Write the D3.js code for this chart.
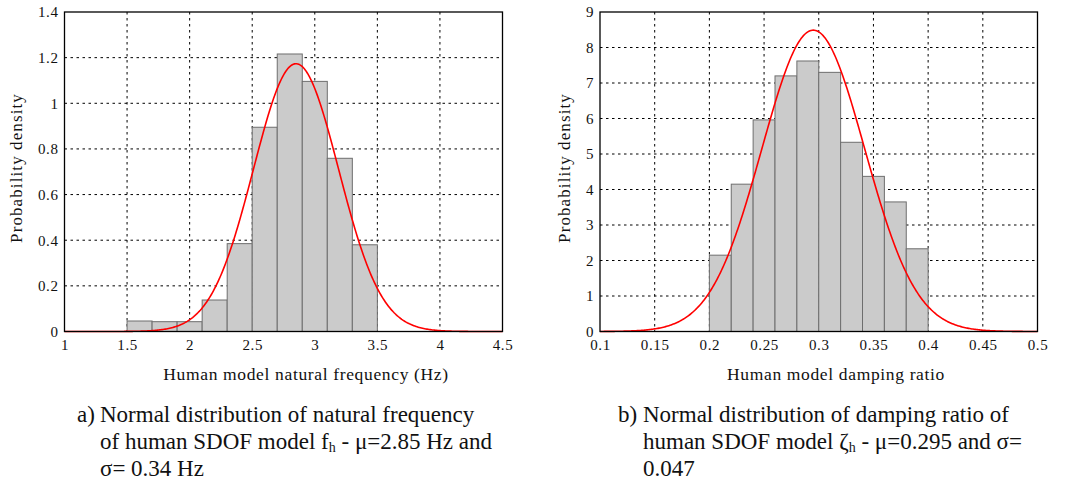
<!DOCTYPE html>
<html>
<head>
<meta charset="utf-8">
<script src="https://cdn.jsdelivr.net/npm/d3@7"></script>
<style>
  html, body { margin: 0; padding: 0; background: #fff; }
  svg { display: block; font-family: "Liberation Serif", "Times New Roman", serif; }
</style>
</head>
<body>
<svg id="chart" width="1071" height="482"></svg>
<script>
// ---------- Data ----------
// Left panel: natural frequency (Hz)
const freqBinEdges = [1.5, 1.7, 1.9, 2.1, 2.3, 2.5, 2.7, 2.9, 3.1, 3.3, 3.5];
const freqDensity  = [0.046, 0.043, 0.043, 0.138, 0.385, 0.895, 1.216, 1.096, 0.759, 0.380];
const freqMu = 2.85, freqSigma = 0.34;
const freqXTicks = [1, 1.5, 2, 2.5, 3, 3.5, 4, 4.5];
const freqYTicks = [0, 0.2, 0.4, 0.6, 0.8, 1, 1.2, 1.4];

// Right panel: damping ratio
const dampBinEdges = [0.20, 0.22, 0.24, 0.26, 0.28, 0.30, 0.32, 0.34, 0.36, 0.38, 0.40];
const dampDensity  = [2.15, 4.15, 5.96, 7.20, 7.62, 7.30, 5.33, 4.37, 3.65, 2.33];
const dampMu = 0.295, dampSigma = 0.047;
const dampXTicks = [0.1, 0.15, 0.2, 0.25, 0.3, 0.35, 0.4, 0.45, 0.5];
const dampYTicks = [0, 1, 2, 3, 4, 5, 6, 7, 8, 9];

// ---------- Drawing ----------
const svg = d3.select("#chart");
const FONT = "'Liberation Serif', 'Times New Roman', serif";

function normalPdf(x, mu, s) {
  return Math.exp(-0.5 * ((x - mu) / s) ** 2) / (s * Math.sqrt(2 * Math.PI));
}

function panel(cfg) {
  const g = svg.append("g");
  const x = d3.scaleLinear().domain(cfg.xDomain).range([cfg.left, cfg.right]);
  const y = d3.scaleLinear().domain(cfg.yDomain).range([cfg.bottom, cfg.top]);

  // grid
  g.append("g").selectAll("line").data(cfg.xTicks.slice(1, -1)).join("line")
    .attr("x1", d => x(d)).attr("x2", d => x(d))
    .attr("y1", cfg.top).attr("y2", cfg.bottom)
    .attr("stroke", "#000").attr("stroke-width", 1).attr("stroke-dasharray", "2.5,3.5");
  g.append("g").selectAll("line").data(cfg.yTicks.slice(1, -1)).join("line")
    .attr("x1", cfg.left).attr("x2", cfg.right)
    .attr("y1", d => y(d)).attr("y2", d => y(d))
    .attr("stroke", "#000").attr("stroke-width", 1).attr("stroke-dasharray", "2.5,3.5");

  // bars
  const bins = cfg.density.map((v, i) => ({ x0: cfg.edges[i], x1: cfg.edges[i + 1], v }));
  g.append("g").selectAll("rect").data(bins).join("rect")
    .attr("x", d => x(d.x0)).attr("width", d => x(d.x1) - x(d.x0))
    .attr("y", d => y(d.v)).attr("height", d => y(0) - y(d.v))
    .attr("fill", "#cbcbcb").attr("stroke", "#6e6e6e").attr("stroke-width", 1);

  // fitted normal curve (from the stated mean and standard deviation)
  const n = 400;
  const pts = d3.range(n + 1).map(i => {
    const xv = cfg.xDomain[0] + (cfg.xDomain[1] - cfg.xDomain[0]) * i / n;
    return [xv, normalPdf(xv, cfg.mu, cfg.sigma)];
  });
  g.append("path").datum(pts)
    .attr("d", d3.line().x(d => x(d[0])).y(d => y(d[1])))
    .attr("fill", "none").attr("stroke", "#ff0000").attr("stroke-width", 1.6);

  // frame
  g.append("rect").attr("x", cfg.left).attr("y", cfg.top)
    .attr("width", cfg.right - cfg.left).attr("height", cfg.bottom - cfg.top)
    .attr("fill", "none").attr("stroke", "#000").attr("stroke-width", 1.3);

  // axes (tick labels)
  const xAxis = d3.axisBottom(x).tickValues(cfg.xTicks).tickSize(0).tickPadding(8)
    .tickFormat(d => String(+d.toFixed(3)));
  const xa = g.append("g").attr("transform", `translate(0,${cfg.bottom})`).call(xAxis)
    .attr("font-family", FONT).attr("font-size", 15);
  xa.select(".domain").remove();
  xa.selectAll("text").attr("fill", "#111").style("letter-spacing", "0.6px");

  const yAxis = d3.axisLeft(y).tickValues(cfg.yTicks).tickSize(0).tickPadding(6)
    .tickFormat(d => String(+d.toFixed(3)));
  const ya = g.append("g").attr("transform", `translate(${cfg.left},0)`).call(yAxis)
    .attr("font-family", FONT).attr("font-size", 15);
  ya.select(".domain").remove();
  ya.selectAll("text").attr("fill", "#111").style("letter-spacing", "0.6px");

  // axis titles
  g.append("text").attr("x", cfg.xTitleX).attr("y", 380)
    .attr("text-anchor", "middle").attr("font-size", 17.5).attr("fill", "#111")
    .style("letter-spacing", "0.65px")
    .text(cfg.xTitle);
  g.append("text")
    .attr("transform", `translate(${cfg.yTitleX},168) rotate(-90)`)
    .attr("text-anchor", "middle").attr("font-size", 17).attr("fill", "#111")
    .style("letter-spacing", "1.1px")
    .text("Probability density");

  // caption
  const cap = g.append("g").attr("font-size", 23).attr("fill", "#111");
  cap.append("text").attr("x", cfg.capX).attr("y", 422).text(cfg.capLabel);
  cfg.capLines.forEach((line, i) => {
    const t = cap.append("text").attr("x", cfg.capIndent).attr("y", 422 + i * 27);
    line.forEach(seg => {
      const ts = t.append("tspan").text(seg.t);
      if (seg.sub) ts.attr("font-size", 14).attr("dy", 3);
      else if (seg.after) ts.attr("dy", -3);
    });
  });
}

panel({
  left: 64.5, right: 502.5, top: 12, bottom: 331.5,
  xDomain: [1, 4.5], yDomain: [0, 1.4],
  xTicks: freqXTicks, yTicks: freqYTicks,
  edges: freqBinEdges, density: freqDensity,
  mu: freqMu, sigma: freqSigma,
  xTitle: "Human model natural frequency (Hz)", xTitleX: 306, yTitleX: 22,
  capX: 77, capIndent: 100, capLabel: "a)",
  capLines: [
    [{ t: "Normal distribution of natural frequency" }],
    [{ t: "of human SDOF model f" }, { t: "h", sub: true }, { t: " - μ=2.85 Hz and", after: true }],
    [{ t: "σ= 0.34 Hz" }]
  ]
});

panel({
  left: 600, right: 1037.5, top: 12, bottom: 331.5,
  xDomain: [0.1, 0.5], yDomain: [0, 9],
  xTicks: dampXTicks, yTicks: dampYTicks,
  edges: dampBinEdges, density: dampDensity,
  mu: dampMu, sigma: dampSigma,
  xTitle: "Human model damping ratio", xTitleX: 836, yTitleX: 570,
  capX: 618, capIndent: 643, capLabel: "b)",
  capLines: [
    [{ t: "Normal distribution of damping ratio of" }],
    [{ t: "human SDOF model ζ" }, { t: "h", sub: true }, { t: " - μ=0.295 and σ=", after: true }],
    [{ t: "0.047" }]
  ]
});
</script>
</body>
</html>
